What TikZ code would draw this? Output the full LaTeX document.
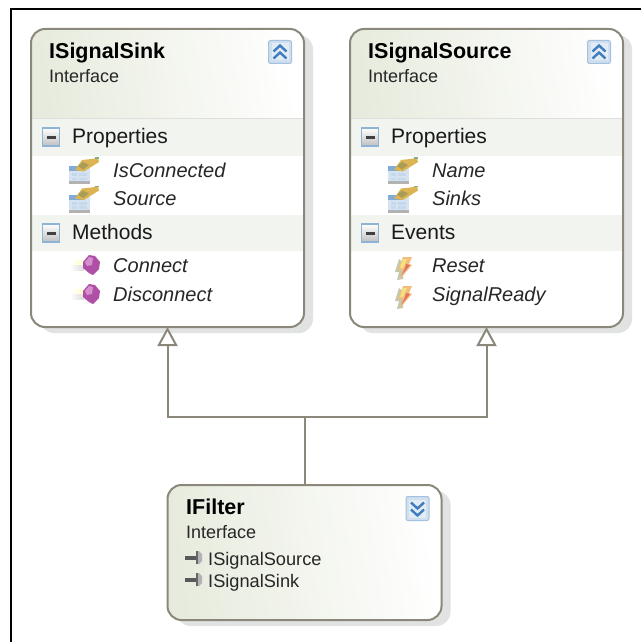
\documentclass[tikz,border=0pt]{standalone}
\usepackage{fontspec}
\setmainfont{Liberation Sans}
\usetikzlibrary{arrows.meta, positioning, calc}

\definecolor{edgegray}{HTML}{8B887B}
\definecolor{shadowgray}{HTML}{E1E3E2}
\definecolor{bandgray}{HTML}{F2F4EF}
\definecolor{rulegray}{HTML}{DDDFDC}
\definecolor{headgreen}{HTML}{E7EBDD}
\definecolor{btnblue}{HTML}{8DB3D6}
\definecolor{chevblue}{HTML}{3F7DBE}
\definecolor{handgold}{HTML}{DDB453}
\definecolor{handolive}{HTML}{A99C56}
\definecolor{methpurple}{HTML}{B04FA6}
\definecolor{methlight}{HTML}{D48FCE}
\definecolor{boltorange}{HTML}{F3BE7C}
\definecolor{boltred}{HTML}{E5705C}
\definecolor{boltyellow}{HTML}{F5E382}
\definecolor{boltgray}{HTML}{C6C8AE}

\tikzset{
  classbox/.style={draw=edgegray, line width=2pt, rounded corners=14pt, inner sep=0pt, outer sep=0pt, minimum width=273pt, anchor=north west},
  shadowbox/.style={fill=shadowgray, rounded corners=14pt},
  headshade/.style={bottom color=headgreen, top color=white, shading angle=-82},
  band/.style={fill=bandgray},
  conn/.style={draw=edgegray, line width=2pt},
  inherit/.style={conn, -{Triangle[fill=white, length=19pt, width=20pt]}},
  titletext/.style={anchor=base west, inner sep=0pt, font=\fontsize{21.5}{24}\selectfont\bfseries, text=black},
  kindtext/.style={anchor=base west, inner sep=0pt, font=\fontsize{18}{22}\selectfont, text=black!85},
  grouptext/.style={anchor=base west, inner sep=0pt, font=\fontsize{21}{24}\selectfont, text=black!90},
  membertext/.style={anchor=base west, inner sep=0pt, font=\fontsize{20}{24}\selectfont\itshape, text=black!85},
  basetext/.style={anchor=base west, inner sep=0pt, font=\fontsize{18.2}{22}\selectfont, text=black!85},
  % Small icons, origin at their top left corner
  minusicon/.pic={
    \shade[draw=btnblue, line width=1.5pt, top color=white, bottom color=black!25] (0,0) rectangle (17,18);
    \fill[black!75] (4,8) rectangle (13,10.5);
  },
  upicon/.pic={
    \fill[chevblue!25, draw=btnblue!80, line width=1pt, rounded corners=2pt] (0,0) rectangle (23,23);
    \fill[white!85!chevblue] (3,3) rectangle (20,20);
    \draw[chevblue, line width=2.4pt] (5,11) -- (11.5,5) -- (18,11);
    \draw[chevblue, line width=2.4pt] (5,18) -- (11.5,12) -- (18,18);
  },
  downicon/.pic={
    \fill[chevblue!25, draw=btnblue!80, line width=1pt, rounded corners=2pt] (0,0) rectangle (23,24);
    \fill[white!85!chevblue] (3,3) rectangle (20,21);
    \draw[chevblue, line width=2.4pt] (5,6) -- (11.5,12) -- (18,6);
    \draw[chevblue, line width=2.4pt] (5,13) -- (11.5,19) -- (18,13);
  },
  propicon/.pic={
    \fill[black!30] (0,24) rectangle (21,27);
    \fill[chevblue!22] (0,9) rectangle (21,24);
    \fill[chevblue!65] (0,9) rectangle (14,14);
    \fill[white!70!chevblue] (3,16) rectangle (8,19);
    \fill[white!70!chevblue] (10,16) rectangle (18,19);
    \fill[white!70!chevblue] (3,20.5) rectangle (8,23);
    \fill[white!70!chevblue] (10,20.5) rectangle (18,23);
    \fill[handgold] (6,13) -- (13,3) -- (22,2) -- (29,1) -- (30,5) -- (22,10) -- (15,14.5) -- cycle;
    \fill[handolive] (9,9) -- (14,5) -- (20,8) -- (14,12.5) -- cycle;
    \fill[green!40!black!50] (26,0) rectangle (30,1.5);
  },
  methicon/.pic={
    \shade[left color=white, right color=yellow!22] (-21,-5) rectangle (-7,0);
    \shade[left color=white, right color=black!14] (-21,0) rectangle (-7,5);
    \fill[methpurple] (-8,-3) -- (-2,-10) -- (4,-9) -- (9,-3) -- (8,4) -- (2,10) -- (-2,8) -- (-8,3) -- cycle;
    \fill[methlight] (-6,-3) -- (-2,-8) -- (2,-7) -- (1,0) -- (-4,1) -- cycle;
  },
  evicon/.pic={
    \fill[boltgray] (4,2) -- (0,15) -- (4,15) -- (2,23) -- (8,22) -- (8,6) -- cycle;
    \fill[boltorange] (8,0) -- (17,0) -- (14,7) -- (17,8) -- (5,22) -- (8,13) -- (3,13) -- cycle;
    \fill[boltyellow] (8,2) -- (12,2) -- (8,11) -- (5,11) -- cycle;
    \fill[boltred] (11,7) -- (15,8) -- (6,19) -- (10,11) -- cycle;
  },
  implicon/.pic={
    \fill[black!65] (0,6) rectangle (12,9.5);
    \fill[black!30] (11,1) -- (14,1) -- (17,4) -- (17,11) -- (14,14) -- (11,14) -- cycle;
    \fill[black!60] (11,1) rectangle (13,14);
  }
}

\begin{document}
\begin{tikzpicture}[x=1pt, y=-1pt]
  \useasboundingbox (0,0) rectangle (641,642);

  % Outer frame
  \draw[black, line width=2pt] (641,9) -- (11,9) -- (11,642);

  % Shadows
  \foreach \x in {40,359} {
    \fill[shadowbox] (\x,35) rectangle ++(273,298);
  }
  \fill[shadowbox] (176.5,491) rectangle ++(274,135);

  % Box bodies and their bands
  \foreach \x in {31,350} {
    \fill[white, rounded corners=14pt] (\x,29) rectangle ++(273,298);
    \shade[headshade, rounded corners=14pt] (\x,118) -- (\x,29) -- ++(273,0) [sharp corners] -- ++(0,89) -- cycle;
    \draw[rulegray, line width=1pt] (\x,118) -- ++(273,0);
    \fill[band] (\x,118.5) rectangle ++(273,37.5);
    \fill[band] (\x,215) rectangle ++(273,36);
  }
  \shade[headshade, rounded corners=14pt] (167.5,485) rectangle ++(274,135);

  % Boxes
  \node[classbox, minimum height=298pt] (sink) at (31,29) {};
  \node[classbox, minimum height=298pt] (source) at (350,29) {};
  \node[classbox, minimum width=274pt, minimum height=135pt] (filter) at (167.5,485) {};

  % Connectors
  \coordinate (junction) at (filter.north |- 0,417);
  \draw[conn] (filter.north) -- (junction);
  \draw[inherit] (junction) -| (sink.south);
  \draw[inherit] (junction) -| (source.south);

  % Titles
  \foreach \x/\y/\name/\label in {49/59/sinktitle/ISignalSink, 368/59/sourcetitle/ISignalSource, 186/514/filtertitle/IFilter} {
    \node[titletext] (\name) at (\x,\y) {\label};
  }
  \foreach \x/\y/\name in {49/82/sinkkind, 368/82/sourcekind, 186/538/filterkind} {
    \node[kindtext] (\name) at (\x,\y) {Interface};
  }

  % Group rows
  \foreach \x/\y/\name/\label in {72/143/sinkprops/Properties, 72/239/sinkmeths/Methods, 391/143/sourceprops/Properties, 391/239/sourceevents/Events} {
    \node[grouptext] (\name) at (\x,\y) {\label};
    \pic at (\x-29.5,\y-15) {minusicon};
  }

  % Member rows
  \foreach \x/\y/\name/\label in {113/177/connected/IsConnected, 113/205.5/sinksource/Source, 432/177/sourcename/Name, 432/205.5/sourcesinks/Sinks} {
    \node[membertext] (\name) at (\x,\y) {\label};
    \pic at (\x-44,\y-20) {propicon};
  }
  \foreach \y/\name/\label in {272/connect/Connect, 301/disconnect/Disconnect} {
    \node[membertext] (\name) at (113,\y) {\label};
    \pic at (91,\y-7) {methicon};
  }
  \foreach \y/\name/\label in {272/reset/Reset, 301/ready/SignalReady} {
    \node[membertext] (\name) at (432,\y) {\label};
    \pic at (395,\y-15) {evicon};
  }

  % Base interfaces of the filter
  \foreach \y/\name/\label in {565/basesource/ISignalSource, 587/basesink/ISignalSink} {
    \node[basetext] (\name) at (208,\y) {\label};
    \pic at (185,\y-15) {implicon};
  }

  % Collapse buttons
  \pic at (268.5,40.5) {upicon};
  \pic at (587.5,40.5) {upicon};
  \pic at (406,496.5) {downicon};
\end{tikzpicture}
\end{document}
